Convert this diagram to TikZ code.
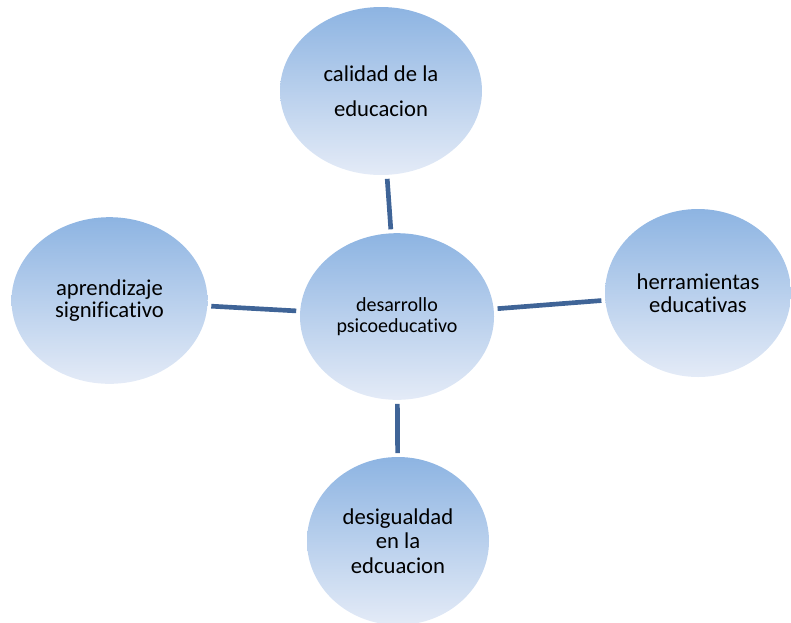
\documentclass[tikz,border=0pt]{standalone}
\usepackage{fontspec}
\setmainfont{Carlito}[Ligatures=NoCommon]
\usetikzlibrary{shapes.geometric}
\definecolor{topblue}{RGB}{141,180,226}
\definecolor{botblue}{RGB}{228,235,247}
\definecolor{linkblue}{RGB}{63,100,151}
\begin{document}
\begin{tikzpicture}[x=0.75pt,y=-0.75pt,
  bubble/.style={ellipse, inner sep=0pt, outer sep=0pt, top color=topblue,
    bottom color=botblue, align=center, text=black,
    font=\fontsize{17pt}{17pt}\selectfont},
  link/.style={draw=linkblue, line width=3.5pt, shorten <=3pt, shorten >=3pt}]
\useasboundingbox (0,0) rectangle (791,622);
\node[bubble, minimum width=151.5pt, minimum height=126pt,
  font=\fontsize{17pt}{26pt}\selectfont] (top) at (381,91) {calidad de la\\educacion};
\node[bubble, minimum width=147pt, minimum height=125pt] (left) at (109.5,300.5) {aprendizaje\\significativo};
\node[bubble, minimum width=145.5pt, minimum height=125pt,
  font=\fontsize{15pt}{16pt}\selectfont] (center) at (397,316.5) {desarrollo\\psicoeducativo};
\node[bubble, minimum width=139.5pt, minimum height=126pt] (right) at (698,293) {herramientas\\educativas};
\node[bubble, minimum width=136.5pt, minimum height=126pt,
  font=\fontsize{17pt}{18.5pt}\selectfont] (bottom) at (398,541) {desigualdad\\en la\\edcuacion};
\draw[link] (top) -- (center);
\draw[link] (left) -- (center);
\draw[link] (center) -- (right);
\draw[link] (center) -- (bottom);
\end{tikzpicture}
\end{document}
